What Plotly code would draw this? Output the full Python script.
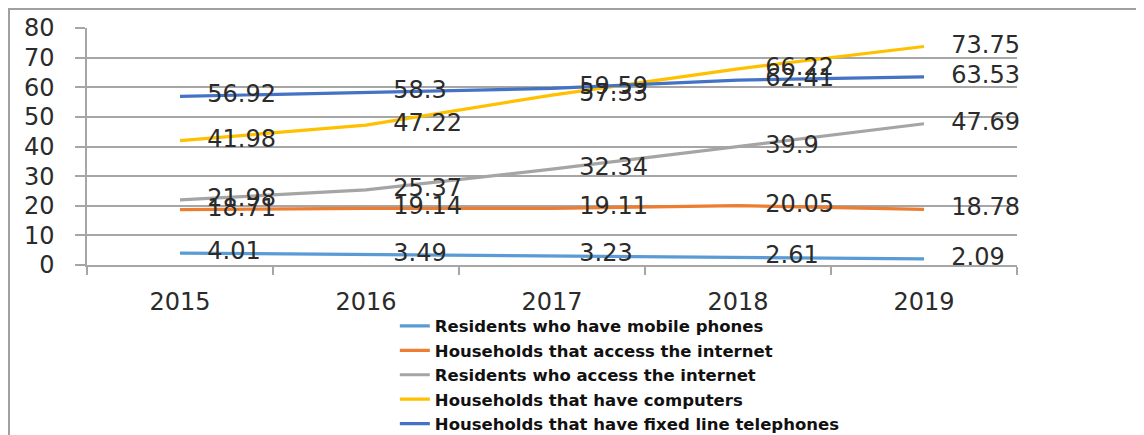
import plotly.graph_objects as go

years = ["2015", "2016", "2017", "2018", "2019"]
series_names = [
    "Residents who have mobile phones",
    "Households that access the internet",
    "Residents who access the internet",
    "Households that have computers",
    "Households that have fixed line telephones",
]
mobile_phones = [4.01, 3.49, 3.23, 2.61, 2.09]
households_internet = [18.71, 19.14, 19.11, 20.05, 18.78]
residents_internet = [21.98, 25.37, 32.34, 39.9, 47.69]
households_computers = [41.98, 47.22, 57.33, 66.22, 73.75]
households_fixed_line = [56.92, 58.3, 59.59, 62.41, 63.53]
y_ticks = [0, 10, 20, 30, 40, 50, 60, 70, 80]

series_values = [mobile_phones, households_internet, residents_internet,
                 households_computers, households_fixed_line]
colors = ["#5B9BD5", "#ED7D31", "#A5A5A5", "#FFC000", "#4472C4"]

GRID = "#A6A6A6"
NUMFONT = dict(family="DejaVu Sans", size=24, color="#2B2B2B")

fig = go.Figure()
for name, vals, col in zip(series_names, series_values, colors):
    fig.add_trace(go.Scatter(x=years, y=vals, name=name, mode="lines",
                             line=dict(color=col, width=3.2)))
# data labels (right of each point)
for name, vals in zip(series_names, series_values):
    fig.add_trace(go.Scatter(x=years, y=vals, mode="markers+text",
                             text=[f"{v:g}" for v in vals],
                             textposition="middle right", textfont=NUMFONT,
                             marker=dict(size=42, opacity=0),
                             cliponaxis=False,
                             showlegend=False, hoverinfo="skip"))

# figure is offset 8px by page body margin, so size it to fit the window
W, H = 1136, 427
L, R, T, B = 79, 127, 20, 170
PW, PH = W - L - R, H - T - B

fig.update_layout(
    width=W, height=H,
    margin=dict(l=L, r=R, t=T, b=B, autoexpand=False),
    paper_bgcolor="white", plot_bgcolor="white",
    showlegend=True,
    legend=dict(x=0.331, xanchor="left", y=-0.184, yanchor="top",
                bgcolor="rgba(0,0,0,0)",
                font=dict(family="DejaVu Sans", size=16.5, color="#111111", weight="bold"),
                tracegroupgap=0),
    shapes=[dict(type="rect", xref="paper", yref="paper",
                 x0=(1 - L) / PW, x1=1.5, y0=-1.5, y1=(PH + T - 1) / PH,
                 line=dict(color="#A0A0A0", width=2), layer="below")],
)
fig.update_xaxes(type="category", range=[-0.5, 4.5], showgrid=False,
                 showline=True, linecolor=GRID, linewidth=1.5,
                 ticks="outside", tickson="boundaries", ticklen=8,
                 tickcolor=GRID, tickwidth=1.5,
                 ticklabelstandoff=14,
                 tickfont=NUMFONT)
fig.update_yaxes(range=[0, 80], tickvals=y_ticks, showgrid=True,
                 gridcolor=GRID, gridwidth=1.5, zeroline=False,
                 showline=True, linecolor=GRID, linewidth=1.5,
                 ticks="outside", ticklen=10, tickcolor=GRID, tickwidth=1.5,
                 ticklabelstandoff=16,
                 tickfont=NUMFONT)

fig.write_html("out.html")
